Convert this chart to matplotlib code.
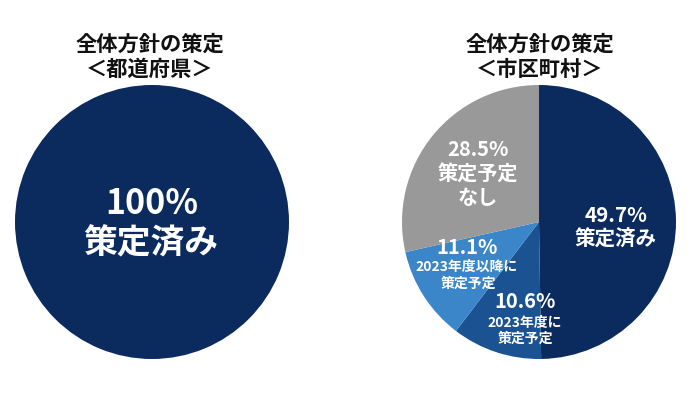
import matplotlib
matplotlib.use("Agg")
import matplotlib.pyplot as plt

plt.rcParams['font.family'] = ['Noto Sans CJK JP', 'DejaVu Sans']

# Data
pref_labels = ["策定済み"]
pref_values = [100.0]
muni_labels = ["策定済み", "2023年度に\n策定予定", "2023年度以降に\n策定予定", "策定予定\nなし"]
muni_values = [49.7, 10.6, 11.1, 28.5]

navy = "#0b2a5e"
mid = "#1b5292"
light = "#3a86c8"
gray = "#999999"

W, H = 700, 395
fig = plt.figure(figsize=(7, 3.95), dpi=100)
ax = fig.add_axes([0, 0, 1, 1])

R = 137
cL = (152, H - 222)
cR = (539, H - 222)

ax.pie(pref_values, colors=[navy], startangle=90, counterclock=False,
       radius=R, center=cL, frame=False)
ax.pie(muni_values, colors=[navy, mid, light, gray], startangle=90,
       counterclock=False, radius=R, center=cR, frame=False)
ax.set_xlim(0, W)
ax.set_ylim(0, H)
ax.set_aspect('equal')
ax.axis('off')

def T(x, y, s, size, color="white"):
    ax.text(x, H - y, s, ha='center', va='center', fontsize=size,
            fontweight='bold', color=color)

# Titles
T(150, 44, "全体方針の策定", 15.3, "#111111")
T(150, 69, "＜都道府県＞", 15.3, "#111111")
T(540, 44, "全体方針の策定", 15.3, "#111111")
T(540, 69, "＜市区町村＞", 15.3, "#111111")

# Left pie labels
T(152, 204, f"{pref_values[0]:.0f}%", 24.5)
T(151, 243, pref_labels[0], 24.3)

# Right pie labels
T(616, 215, f"{muni_values[0]}%", 14.8)
T(616, 239, muni_labels[0], 14.8)

T(525, 302, f"{muni_values[1]}%", 14.5)
l1, l2 = muni_labels[1].split("\n")
T(525, 323, l1, 10)
T(525, 339, l2, 10)

T(467, 247, f"{muni_values[2]}%", 14.5)
l1, l2 = muni_labels[2].split("\n")
T(467, 267, l1, 10)
T(468, 284, l2, 10)

T(478, 150, f"{muni_values[3]}%", 14.5)
l1, l2 = muni_labels[3].split("\n")
T(478, 174, l1, 14.5)
T(478, 198, l2, 14.5)

fig.savefig("out.png", dpi=100)
